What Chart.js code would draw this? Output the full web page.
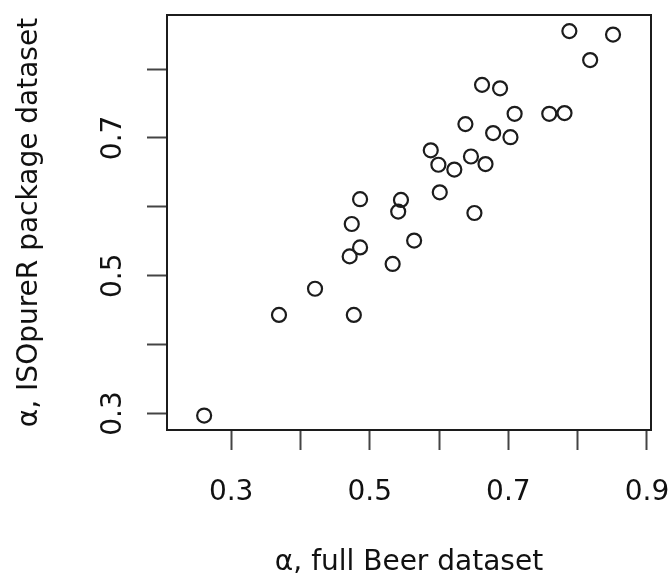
<!DOCTYPE html>
<html>
<head>
<meta charset="utf-8">
<script src="https://cdn.jsdelivr.net/npm/chart.js@4.4.1/dist/chart.umd.min.js"></script>
<style>
  html, body { margin: 0; padding: 0; background: #ffffff; }
  #wrap { width: 669px; height: 579px; }
</style>
</head>
<body>
<div id="wrap"><canvas id="c" width="669" height="579"></canvas></div>
<script>
// ---- data ----
const xValues = [0.788, 0.851, 0.818, 0.662, 0.688, 0.709, 0.759, 0.781, 0.638, 0.678,
                 0.703, 0.588, 0.599, 0.622, 0.646, 0.667, 0.601, 0.651, 0.486, 0.545,
                 0.541, 0.474, 0.486, 0.471, 0.564, 0.533, 0.421, 0.369, 0.477, 0.261];
const yValues = [0.855, 0.850, 0.813, 0.777, 0.772, 0.735, 0.735, 0.736, 0.720, 0.707,
                 0.701, 0.682, 0.661, 0.654, 0.673, 0.662, 0.621, 0.591, 0.611, 0.610,
                 0.593, 0.575, 0.541, 0.528, 0.551, 0.517, 0.481, 0.443, 0.443, 0.297];
const xRange = [0.2074, 0.9058];
const yRange = [0.276, 0.8784];
const tickStep = 0.1;
const xTickLabels = ['0.3', '0.5', '0.7', '0.9'];
const yTickLabels = ['0.3', '0.5', '0.7'];
const xTitle = 'α, full Beer dataset';
const yTitle = 'α, ISOpureR package dataset';

const points = xValues.map((x, i) => ({ x: x, y: yValues[i] }));

const FONT_FAMILY = '"DejaVu Sans", "Liberation Sans", Arial, sans-serif';
const TICK_FONT = '28px ' + FONT_FAMILY;
const TITLE_FONT = '28px ' + FONT_FAMILY;
const INK = '#1c1c1c';

const framePlugin = {
  id: 'frame',
  afterDraw(chart) {
    const ctx = chart.ctx;
    const a = chart.chartArea;
    const xs = chart.scales.x, ys = chart.scales.y;
    ctx.save();
    // box
    ctx.strokeStyle = INK;
    ctx.lineWidth = 2;
    ctx.strokeRect(a.left, a.top, a.right - a.left, a.bottom - a.top);
    // x tick labels
    ctx.fillStyle = '#111111';
    ctx.font = TICK_FONT;
    ctx.textAlign = 'center';
    ctx.textBaseline = 'alphabetic';
    xs.ticks.forEach(t => {
      const s = t.value.toFixed(1);
      if (xTickLabels.includes(s)) ctx.fillText(s, xs.getPixelForValue(t.value), a.bottom + 70);
    });
    // y tick labels (rotated)
    ys.ticks.forEach(t => {
      const s = t.value.toFixed(1);
      if (yTickLabels.includes(s)) {
        ctx.save();
        ctx.translate(a.left - 46, ys.getPixelForValue(t.value));
        ctx.rotate(-Math.PI / 2);
        ctx.fillText(s, 0, 0);
        ctx.restore();
      }
    });
    // titles
    ctx.font = TITLE_FONT;
    ctx.fillText(xTitle, (a.left + a.right) / 2, a.bottom + 140);
    ctx.save();
    ctx.translate(a.left - 130, (a.top + a.bottom) / 2);
    ctx.rotate(-Math.PI / 2);
    ctx.fillText(yTitle, 0, 0);
    ctx.restore();
    ctx.restore();
  }
};

const gridOpts = {
  display: true,
  drawOnChartArea: false,
  drawTicks: true,
  tickLength: 20,
  tickWidth: 2,
  tickColor: '#444444'
};

new Chart(document.getElementById('c'), {
  type: 'scatter',
  data: {
    datasets: [{
      data: points,
      pointStyle: 'circle',
      pointRadius: 7,
      pointHoverRadius: 7,
      borderWidth: 2.2,
      borderColor: INK,
      backgroundColor: 'rgba(0,0,0,0)',
      clip: false
    }]
  },
  options: {
    responsive: false,
    animation: false,
    devicePixelRatio: 1,
    layout: { padding: { top: 15, right: 18, left: 0, bottom: 0 } },
    plugins: { legend: { display: false }, tooltip: { enabled: false } },
    scales: {
      x: {
        type: 'linear',
        position: 'bottom',
        min: xRange[0],
        max: xRange[1],
        ticks: { stepSize: tickStep, includeBounds: false, display: false },
        grid: gridOpts,
        border: { display: false },
        afterFit(s) { s.height = 149; }
      },
      y: {
        type: 'linear',
        position: 'left',
        min: yRange[0],
        max: yRange[1],
        ticks: { stepSize: tickStep, includeBounds: false, display: false },
        grid: gridOpts,
        border: { display: false },
        afterFit(s) { s.width = 167; }
      }
    }
  },
  plugins: [framePlugin]
});
</script>
</body>
</html>
